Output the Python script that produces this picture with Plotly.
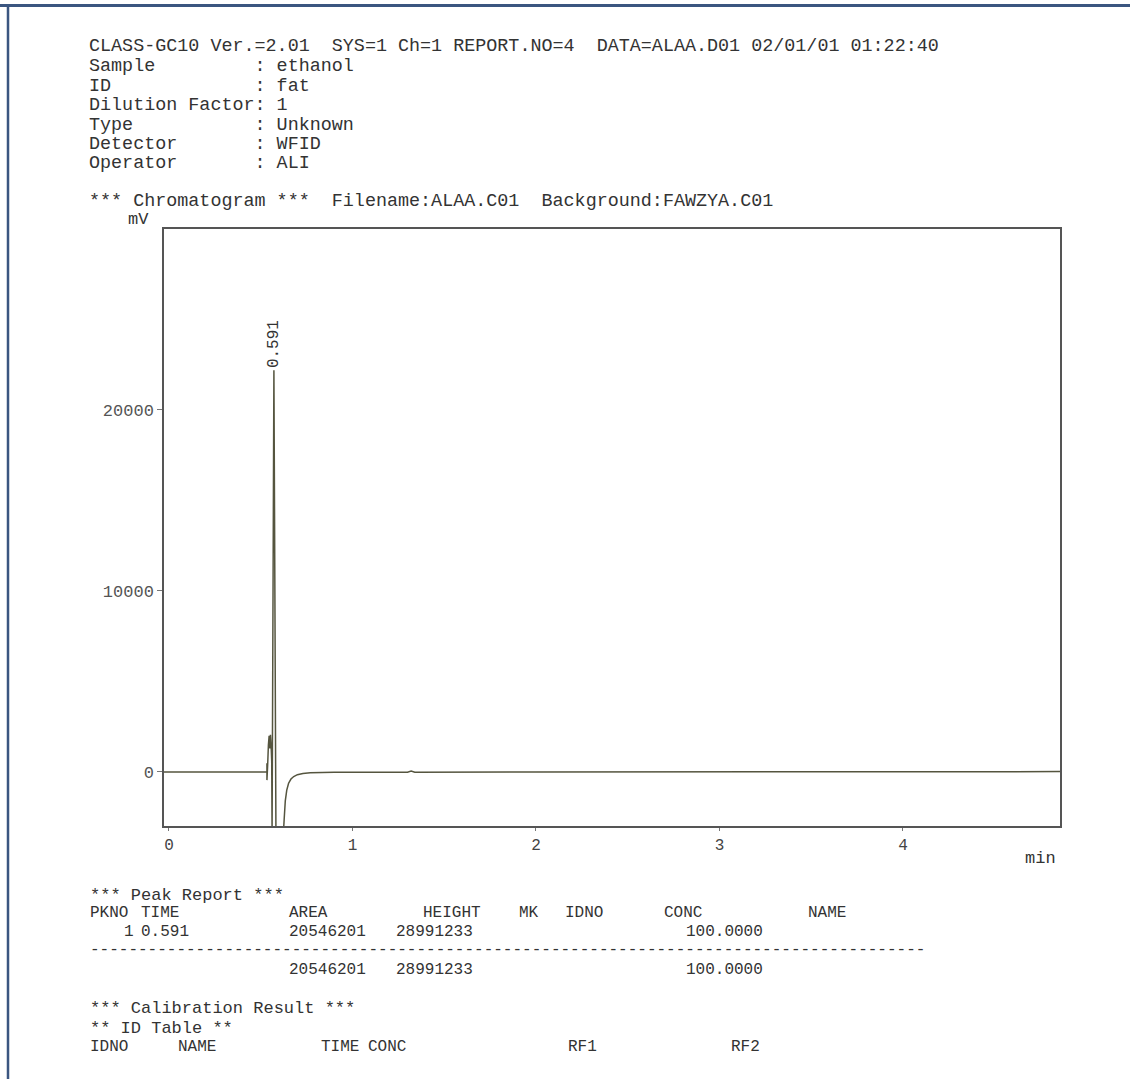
import plotly.graph_objects as go

# ---------------- data ----------------
time_min = [-0.027, 0.534, 0.534, 0.534, 0.534, 0.538, 0.542, 0.546, 0.550, 0.553,
            0.557, 0.560, 0.562, 0.572, 0.583, 0.624, 0.628, 0.634, 0.642, 0.652,
            0.665, 0.680, 0.700, 0.730, 0.770, 0.820, 0.900, 1.000, 1.300, 1.320,
            1.340, 2.000, 3.000, 4.000, 4.856]
signal_mv = [0, 0, 480, -450, 0, 400, 1500, 2000, 1300, 2050,
             1400, 600, -3300, 22200, -3300, -3300, -2600, -1600, -1000, -620,
             -390, -250, -150, -80, -45, -25, -15, -10, -10, 50,
             -10, 0, 5, 15, 20]

peak_x = [0.572]
peak_y = [22200]
peak_labels = ["0.591"]

x_ticks = [0, 1, 2, 3, 4]
x_ticklabels = ["0", "1", "2", "3", "4"]
y_ticks = [0, 10000, 20000]
y_ticklabels = ["0", "10000", "20000"]

header_lines = [
    "CLASS-GC10 Ver.=2.01  SYS=1 Ch=1 REPORT.NO=4  DATA=ALAA.D01 02/01/01 01:22:40",
    "Sample         : ethanol",
    "ID             : fat",
    "Dilution Factor: 1",
    "Type           : Unknown",
    "Detector       : WFID",
    "Operator       : ALI",
]
chrom_line = "*** Chromatogram ***  Filename:ALAA.C01  Background:FAWZYA.C01"

peak_cols = ["PKNO", "TIME", "AREA", "HEIGHT", "MK", "IDNO", "CONC", "NAME"]
peak_row = ["1", "0.591", "20546201", "28991233", "100.0000"]
total_row = ["20546201", "28991233", "100.0000"]
id_cols = ["IDNO", "NAME", "TIME", "CONC", "RF1", "RF2"]

# ---------------- layout geometry (screen pixels) ----------------
W, H = 1130, 1079
L, R, T, B = 164, 1060, 229, 826   # plot box
MONO = "Liberation Mono, Courier New, monospace"
TXT = "#333333"


def px(x):
    return (x - L) / (R - L)


def py(y):
    return (B - y) / (B - T)


def nb(s):
    return s.replace(" ", "\u00a0")


annotations = []


def text(x, y, s, size=18.4, color=TXT, xanchor="left"):
    annotations.append(dict(
        x=px(x), y=py(y), xref="paper", yref="paper", text=nb(s),
        showarrow=False, xanchor=xanchor, yanchor="middle",
        font=dict(family=MONO, size=size, color=color)))


fig = go.Figure()
fig.add_trace(go.Scatter(
    x=time_min, y=signal_mv, mode="lines",
    line=dict(color="#55553f", width=1.5), showlegend=False, hoverinfo="skip"))

# header
header_y = [47, 67, 86, 105.5, 125, 144, 163]
for s, y in zip(header_lines, header_y):
    text(87, y, s)
text(87, 201, chrom_line)
text(126, 219, "mV", size=17)
text(1058, 858, "min", size=17, xanchor="right")

# peak label
for x, y, s in zip(peak_x, peak_y, peak_labels):
    annotations.append(dict(
        x=x, y=y, xref="x", yref="y", text=s, showarrow=False,
        textangle=-90, xanchor="center", yanchor="bottom",
        font=dict(family=MONO, size=16, color=TXT)))

# peak report
TS = 16
text(88, 895, "*** Peak Report ***", 17)
for s, x in zip(peak_cols, [88, 139, 287, 421, 517, 563, 662, 806]):
    text(x, 913, s, TS)
for s, x in zip(peak_row, [122, 139, 287, 394, 684]):
    text(x, 932, s, TS)
text(88, 950, "-" * 87, TS)
for s, x in zip(total_row, [287, 394, 684]):
    text(x, 970, s, TS)
text(88, 1009, "*** Calibration Result ***", 17)
text(88, 1028, "** ID Table **", 17)
for s, x in zip(id_cols, [88, 176, 319, 366, 566, 729]):
    text(x, 1047, s, TS)

# page frame
FRAME = "#3b5680"
shapes = [
    dict(type="line", xref="paper", yref="paper", x0=px(0), x1=px(W), y0=py(5.5), y1=py(5.5),
         line=dict(color=FRAME, width=3)),
    dict(type="line", xref="paper", yref="paper", x0=px(8), x1=px(8), y0=py(4), y1=py(H + 5),
         line=dict(color=FRAME, width=2.5)),
]

fig.update_layout(
    width=W, height=H,
    margin=dict(l=L, r=W - R, t=T, b=H - B, pad=0),
    paper_bgcolor="white", plot_bgcolor="white",
    annotations=annotations, shapes=shapes,
    showlegend=False,
    xaxis=dict(range=[-0.027, 4.856], tickvals=x_ticks, ticktext=x_ticklabels,
               showgrid=False, zeroline=False, showline=True, mirror=True,
               linecolor="#555555", linewidth=1.5, ticks="outside", ticklen=3,
               tickcolor="#777777", tickfont=dict(family=MONO, size=16, color="#444444")),
    yaxis=dict(range=[-2985, 30000], tickvals=y_ticks, ticktext=y_ticklabels,
               showgrid=False, zeroline=False, showline=True, mirror=True,
               linecolor="#555555", linewidth=1.5, ticks="outside", ticklen=5,
               tickcolor="#777777", tickfont=dict(family=MONO, size=17, color="#555555")),
)

fig.write_html("out.html",
               config={"displayModeBar": False},
               post_script="document.body.style.margin='0';document.body.style.overflow='hidden';")
